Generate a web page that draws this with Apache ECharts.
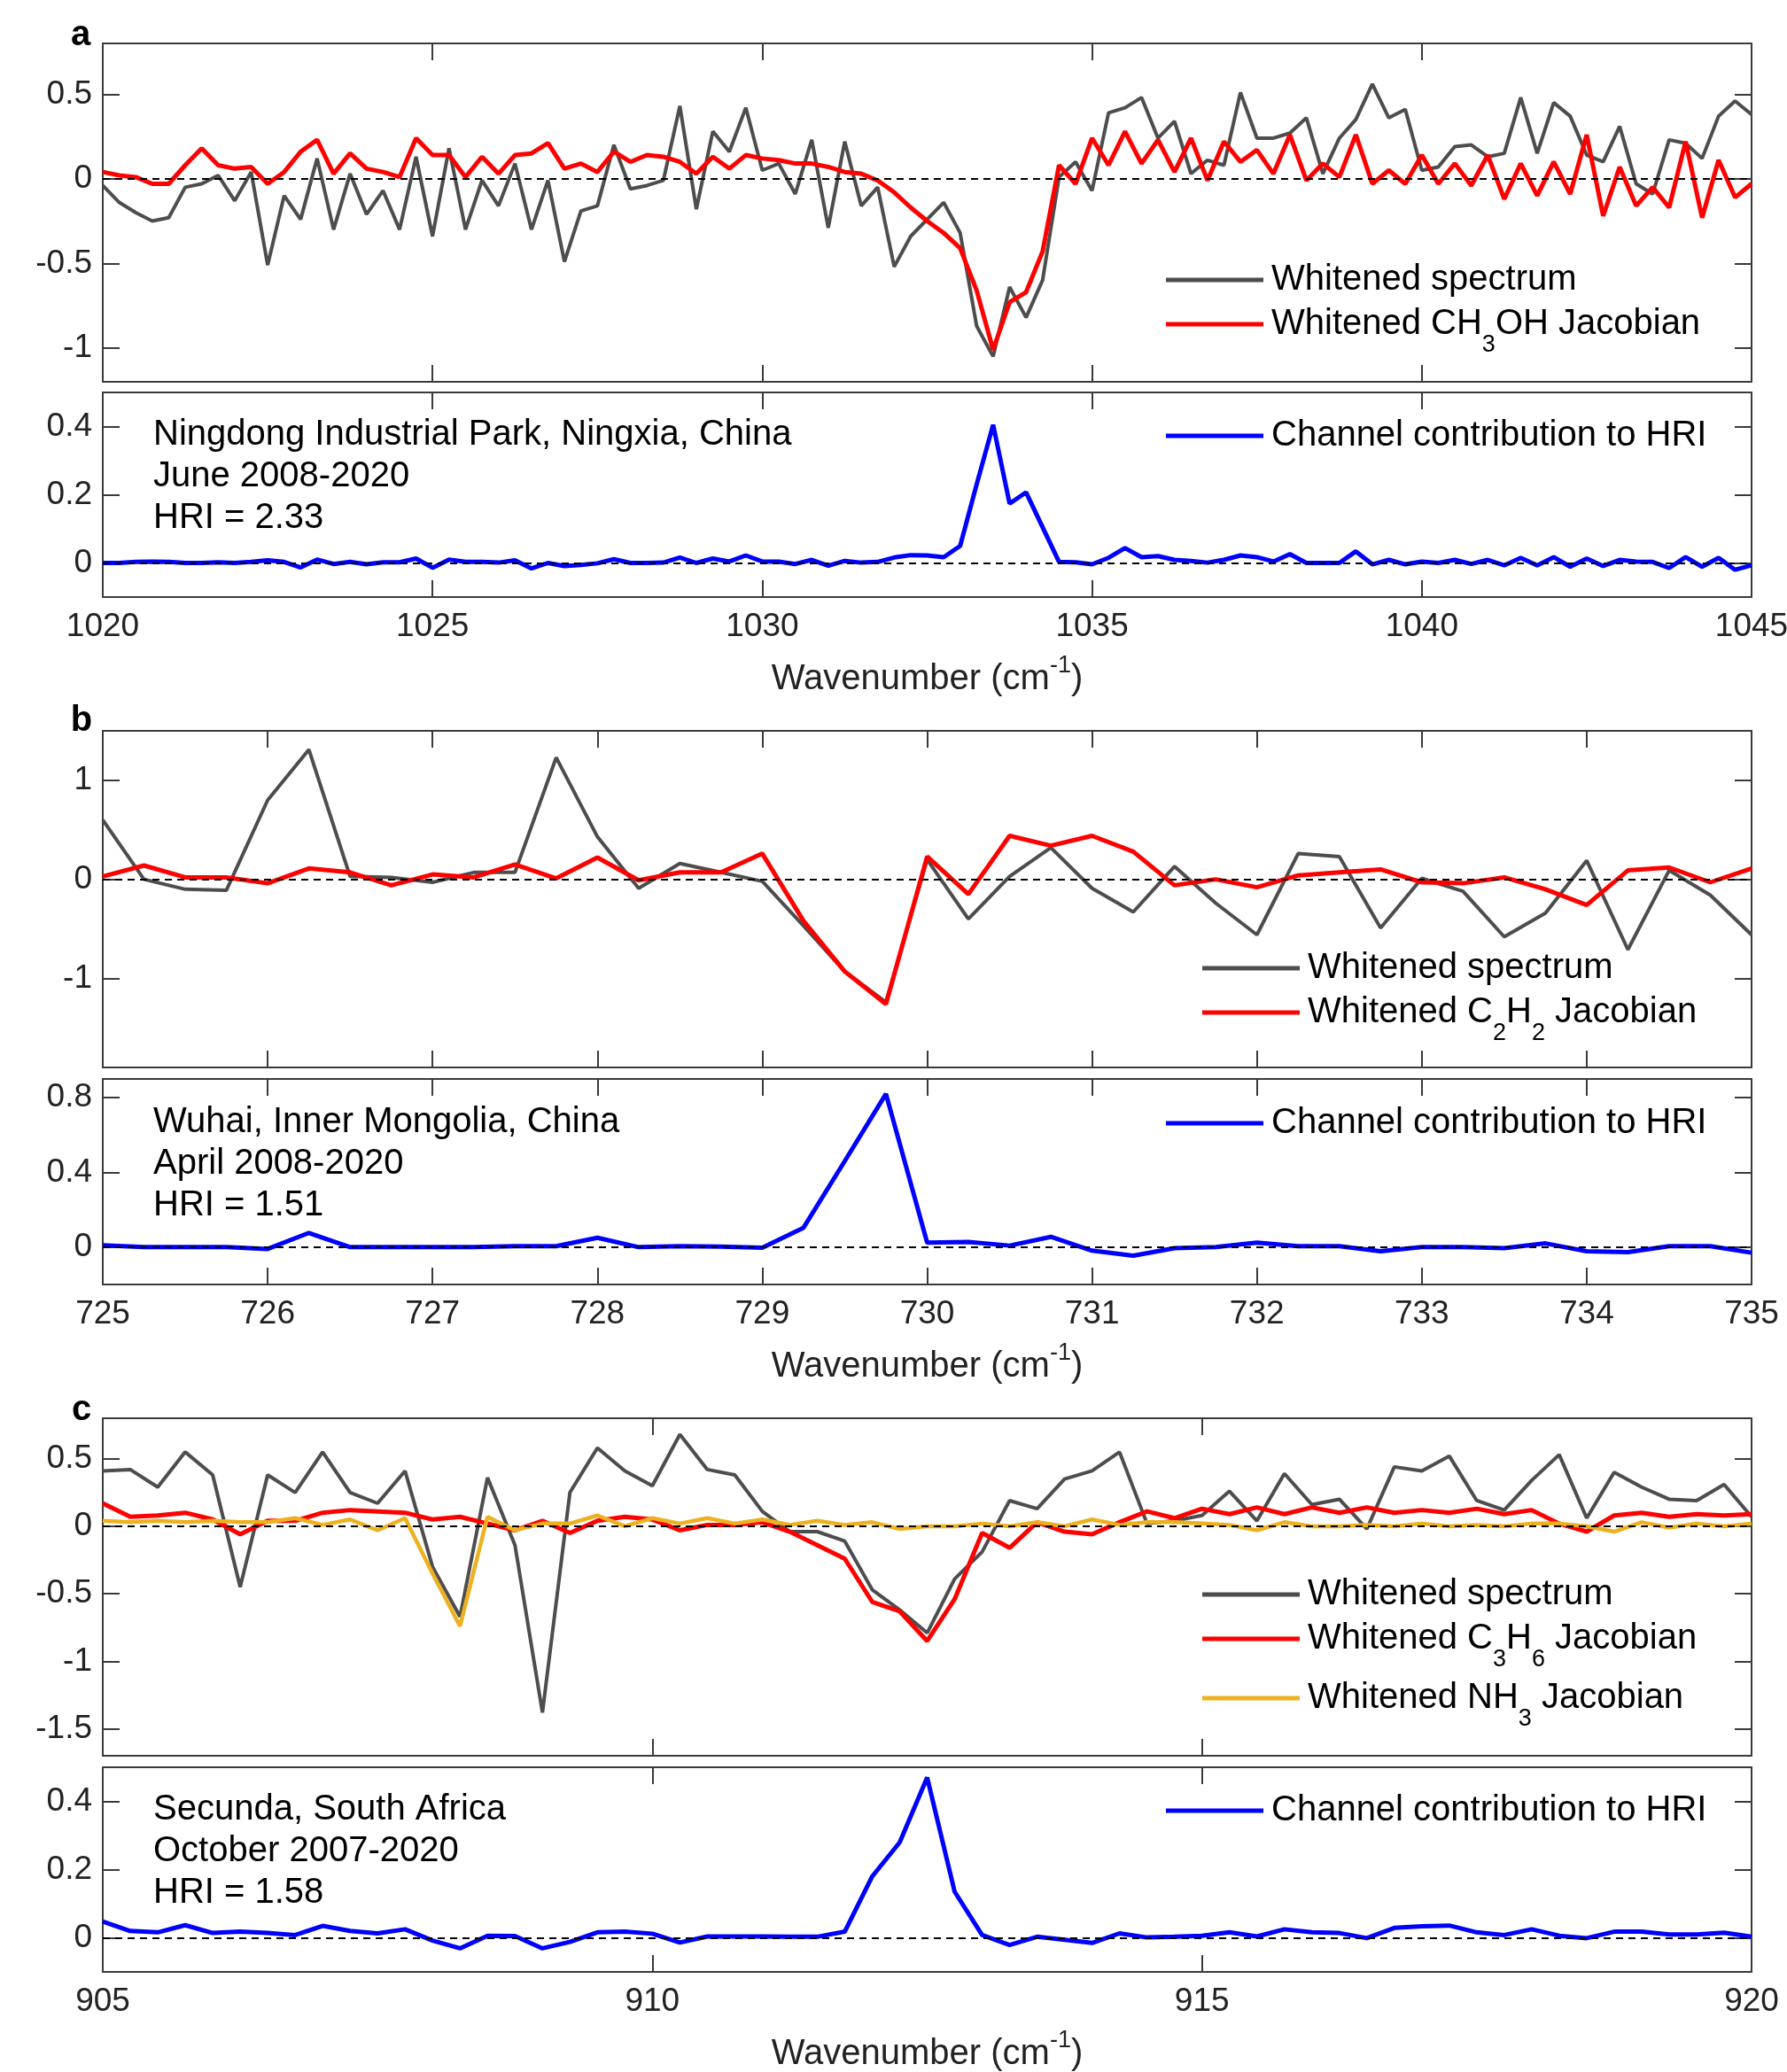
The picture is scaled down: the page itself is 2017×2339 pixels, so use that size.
<!DOCTYPE html>
<html>
<head>
<meta charset="utf-8">
<script src="https://cdn.jsdelivr.net/npm/echarts/dist/echarts.min.js"></script>
<style>
html, body { margin: 0; padding: 0; background: #fff; overflow: hidden; }
#chart { width: 2017px; height: 2339px; }
</style>
</head>
<body>
<div id="chart"></div>
<script>
// ---- panel a : CH3OH, Ningdong ----
var aStart = 1020, aStep = 0.25;
var aSpectrum = [-0.04, -0.14, -0.20, -0.25, -0.23, -0.05, -0.03, 0.02, -0.13, 0.04,
    -0.51, -0.10, -0.24, 0.12, -0.30, 0.03, -0.21, -0.07, -0.30, 0.13,
    -0.34, 0.18, -0.30, -0.01, -0.16, 0.09, -0.30, -0.01, -0.49, -0.19,
    -0.16, 0.20, -0.06, -0.04, -0.01, 0.43, -0.18, 0.28, 0.16, 0.42,
    0.05, 0.09, -0.09, 0.23, -0.29, 0.22, -0.16, -0.05, -0.52, -0.34,
    -0.24, -0.14, -0.32, -0.87, -1.05, -0.64, -0.82, -0.60, 0.01, 0.10,
    -0.07, 0.39, 0.42, 0.48, 0.24, 0.34, 0.03, 0.11, 0.08, 0.51,
    0.24, 0.24, 0.27, 0.36, 0.03, 0.24, 0.35, 0.56, 0.36, 0.41,
    0.05, 0.07, 0.19, 0.20, 0.13, 0.15, 0.48, 0.15, 0.45, 0.37,
    0.14, 0.10, 0.31, -0.03, -0.09, 0.23, 0.21, 0.12, 0.37, 0.46, 0.38];
var aJacobian = [0.04, 0.02, 0.01, -0.03, -0.03, 0.08, 0.18, 0.08, 0.06, 0.07,
    -0.03, 0.04, 0.16, 0.23, 0.03, 0.15, 0.06, 0.04, 0.01, 0.24,
    0.14, 0.14, 0.01, 0.13, 0.03, 0.14, 0.15, 0.21, 0.06, 0.09,
    0.04, 0.16, 0.10, 0.14, 0.13, 0.10, 0.03, 0.13, 0.06, 0.14,
    0.12, 0.11, 0.09, 0.09, 0.07, 0.04, 0.03, -0.01, -0.08, -0.17,
    -0.25, -0.32, -0.41, -0.66, -1.01, -0.73, -0.67, -0.43, 0.08, -0.03,
    0.24, 0.08, 0.28, 0.09, 0.23, 0.04, 0.24, -0.01, 0.22, 0.10,
    0.17, 0.03, 0.26, -0.01, 0.09, 0.01, 0.26, -0.03, 0.05, -0.03,
    0.14, -0.03, 0.09, -0.04, 0.14, -0.12, 0.09, -0.10, 0.10, -0.09,
    0.26, -0.22, 0.07, -0.16, -0.05, -0.17, 0.22, -0.23, 0.11, -0.11, -0.03];
var aContribution = [0, 0, 0.003, 0.004, 0.003, 0, 0, 0.002, 0, 0.003,
    0.008, 0.003, -0.013, 0.010, -0.003, 0.003, -0.004, 0.002, 0.002, 0.013,
    -0.014, 0.010, 0.003, 0.003, 0.001, 0.008, -0.016, 0, -0.009, -0.006,
    -0.001, 0.011, 0, 0, 0.001, 0.016, 0, 0.013, 0.004, 0.022,
    0.004, 0.004, -0.003, 0.009, -0.008, 0.006, 0.001, 0.003, 0.016, 0.023,
    0.022, 0.017, 0.05, 0.23, 0.405, 0.174, 0.207, 0.105, 0.003, 0.002,
    -0.004, 0.015, 0.044, 0.017, 0.020, 0.009, 0.006, 0.001, 0.009, 0.022,
    0.017, 0.004, 0.026, 0, 0, 0, 0.034, -0.004, 0.009, -0.004,
    0.004, 0, 0.009, -0.003, 0.009, -0.007, 0.015, -0.007, 0.017, -0.011,
    0.013, -0.009, 0.009, 0.004, 0.003, -0.015, 0.017, -0.011, 0.015, -0.020, -0.007];
var aTopTicks = [-1, -0.5, 0, 0.5];
var aBotTicks = [0, 0.2, 0.4];

// ---- panel b : C2H2, Wuhai ----
var bStart = 725, bStep = 0.25;
var bSpectrum = [0.60, 0.00, -0.10, -0.11, 0.80, 1.31, 0.03, 0.02, -0.03, 0.07,
    0.07, 1.23, 0.43, -0.09, 0.16, 0.07, -0.02, -0.47, -0.93, -1.24,
    0.20, -0.40, 0.03, 0.32, -0.09, -0.33, 0.13, -0.24, -0.56, 0.26,
    0.23, -0.49, 0.01, -0.12, -0.58, -0.34, 0.19, -0.71, 0.09, -0.16, -0.56];
var bJacobian = [0.03, 0.14, 0.02, 0.02, -0.04, 0.11, 0.07, -0.06, 0.05, 0.02,
    0.15, 0.01, 0.22, -0.01, 0.07, 0.07, 0.26, -0.42, -0.93, -1.26,
    0.23, -0.15, 0.44, 0.34, 0.44, 0.28, -0.06, 0.00, -0.08, 0.04,
    0.07, 0.10, -0.03, -0.04, 0.02, -0.10, -0.26, 0.09, 0.12, -0.03, 0.11];
var bContribution = [0.01, 0, 0, 0, -0.01, 0.076, 0, 0, 0, 0,
    0.005, 0.005, 0.05, 0, 0.005, 0.003, -0.003, 0.104, 0.46, 0.82,
    0.024, 0.028, 0.008, 0.055, -0.019, -0.046, -0.006, 0, 0.024, 0.005,
    0.005, -0.022, 0, 0, -0.006, 0.02, -0.022, -0.027, 0.005, 0.005, -0.03];
var bTopTicks = [-1, 0, 1];
var bBotTicks = [0, 0.4, 0.8];

// ---- panel c : C3H6 + NH3, Secunda ----
var cStart = 905, cStep = 0.25;
var cSpectrum = [0.41, 0.42, 0.29, 0.55, 0.38, -0.45, 0.38, 0.25, 0.55, 0.25,
    0.17, 0.41, -0.30, -0.67, 0.36, -0.14, -1.38, 0.25, 0.58, 0.41,
    0.30, 0.68, 0.42, 0.38, 0.11, -0.04, -0.04, -0.11, -0.47, -0.62,
    -0.79, -0.39, -0.19, 0.19, 0.13, 0.35, 0.41, 0.55, 0.02, 0.04,
    0.08, 0.26, 0.04, 0.39, 0.16, 0.20, -0.02, 0.44, 0.41, 0.52,
    0.19, 0.12, 0.34, 0.53, 0.06, 0.40, 0.29, 0.20, 0.19, 0.31, 0.07];
var cJacobianC3H6 = [0.17, 0.07, 0.08, 0.10, 0.05, -0.06, 0.04, 0.04, 0.10, 0.12,
    0.11, 0.10, 0.05, 0.07, 0.02, -0.03, 0.04, -0.05, 0.04, 0.07,
    0.05, -0.03, 0.01, 0.01, 0.03, -0.04, -0.14, -0.24, -0.56, -0.63,
    -0.85, -0.54, -0.05, -0.16, 0.03, -0.04, -0.06, 0.03, 0.11, 0.06,
    0.13, 0.09, 0.14, 0.09, 0.14, 0.10, 0.14, 0.10, 0.12, 0.10,
    0.13, 0.09, 0.12, 0.02, -0.04, 0.08, 0.10, 0.07, 0.09, 0.08, 0.09];
var cJacobianNH3 = [0.04, 0.03, 0.04, 0.03, 0.04, 0.03, 0.03, 0.06, 0.01, 0.05,
    -0.03, 0.06, -0.35, -0.74, 0.07, -0.03, 0.02, 0.02, 0.08, 0,
    0.06, 0.02, 0.06, 0.02, 0.05, 0.01, 0.04, 0.01, 0.03, -0.02,
    0, 0, 0.02, 0, 0.03, 0, 0.05, 0.01, 0.03, 0.03,
    0.02, 0.01, -0.03, 0.03, 0, 0, 0.01, 0, 0.02, 0,
    0.01, 0, 0.02, 0.02, 0, -0.04, 0.03, -0.01, 0.02, 0, 0.02];
var cContribution = [0.048, 0.02, 0.016, 0.037, 0.014, 0.018, 0.014, 0.008, 0.035, 0.02,
    0.013, 0.025, -0.008, -0.031, 0.006, 0.005, -0.031, -0.012, 0.016, 0.018,
    0.012, -0.014, 0.004, 0.004, 0.004, 0.003, 0.003, 0.018, 0.18, 0.28,
    0.47, 0.135, 0.008, -0.021, 0.003, -0.006, -0.015, 0.013, 0.001, 0.003,
    0.006, 0.016, 0.004, 0.025, 0.016, 0.014, -0.001, 0.029, 0.034, 0.036,
    0.016, 0.008, 0.025, 0.006, -0.001, 0.018, 0.018, 0.010, 0.010, 0.015, 0.003];
var cTopTicks = [-1.5, -1, -0.5, 0, 0.5];
var cBotTicks = [0, 0.2, 0.4];

var FONT = 'Liberation Sans';
var axisColor = '#3a3a3a';
var grey = '#4d4d4d', red = '#ff0000', blue = '#0000ff', yellow = '#edb120';

var myChart = echarts.init(document.getElementById('chart'));

function pairs(start, step, vals) {
    var out = [];
    for (var i = 0; i < vals.length; i++) {
        out.push([start + i * step, vals[i]]);
    }
    return out;
}

// plain numbers, no thousands separator
function plain(v) {
    return String(v);
}

var grids = [], xAxes = [], yAxes = [], series = [];

function addPanel(top, height, xMin, xMax, xStep, yMin, yMax, yTicks, withLabels) {
    var g = grids.length;
    grids.push({left: 116, right: 40, top: top, height: height, outerBoundsMode: 'none', containLabel: false});
    var line = {show: true, onZero: false, lineStyle: {color: axisColor, width: 2}};
    var tick = {show: true, inside: true, length: 19, lineStyle: {color: axisColor, width: 2}};
    var bottom = {
        type: 'value', gridIndex: g, position: 'bottom', min: xMin, max: xMax, interval: xStep,
        axisLine: line, axisTick: tick, splitLine: {show: false},
        axisLabel: {show: withLabels, margin: 15, color: '#222', fontSize: 37, fontFamily: FONT, formatter: plain}
    };
    if (withLabels) {
        bottom.name = 'Wavenumber (cm{sup|-1})';
        bottom.nameLocation = 'middle';
        bottom.nameGap = 64;
        bottom.nameTextStyle = {
            color: '#222', fontSize: 40, fontFamily: FONT, lineHeight: 58,
            rich: {sup: {fontSize: 27, lineHeight: 27, verticalAlign: 'top', fontFamily: FONT, color: '#222'}}
        };
    }
    xAxes.push(bottom);
    xAxes.push({
        type: 'value', gridIndex: g, position: 'top', min: xMin, max: xMax, interval: xStep,
        axisLine: line, axisTick: tick, splitLine: {show: false}, axisLabel: {show: false}
    });
    yAxes.push({
        type: 'value', gridIndex: g, position: 'left', min: yMin, max: yMax,
        axisLine: line, splitLine: {show: false},
        axisTick: {show: true, inside: true, length: 19, lineStyle: {color: axisColor, width: 2}, customValues: yTicks},
        axisLabel: {margin: 12, color: '#222', fontSize: 37, fontFamily: FONT, customValues: yTicks, formatter: plain}
    });
    yAxes.push({
        type: 'value', gridIndex: g, position: 'right', min: yMin, max: yMax,
        axisLine: line, splitLine: {show: false},
        axisTick: {show: true, inside: true, length: 19, lineStyle: {color: axisColor, width: 2}, customValues: yTicks},
        axisLabel: {show: false}
    });
    return g;
}

function addLine(g, name, color, width, start, step, vals, zeroLine) {
    var s = {
        name: name, type: 'line', xAxisIndex: 2 * g, yAxisIndex: 2 * g,
        data: pairs(start, step, vals),
        symbol: 'none', showSymbol: false,
        lineStyle: {color: color, width: width},
        itemStyle: {color: color},
        animation: false
    };
    if (zeroLine) {
        s.markLine = {
            silent: true, symbol: 'none', label: {show: false}, animation: false,
            lineStyle: {color: '#000', width: 2, type: [8, 6]},
            data: [{yAxis: 0}]
        };
    }
    series.push(s);
}

var SPEC = 'Whitened spectrum';
var HRI = 'Channel contribution to HRI';

var g0 = addPanel(49, 382, 1020, 1045, 5, -1.2, 0.8, aTopTicks, false);
addLine(g0, SPEC, grey, 4, aStart, aStep, aSpectrum, true);
addLine(g0, 'Whitened CH3OH Jacobian', red, 5, aStart, aStep, aJacobian, false);
var g1 = addPanel(443, 231, 1020, 1045, 5, -0.1, 0.5, aBotTicks, true);
addLine(g1, HRI, blue, 5, aStart, aStep, aContribution, true);

var g2 = addPanel(825, 380, 725, 735, 1, -1.9, 1.5, bTopTicks, false);
addLine(g2, SPEC, grey, 4, bStart, bStep, bSpectrum, true);
addLine(g2, 'Whitened C2H2 Jacobian', red, 5, bStart, bStep, bJacobian, false);
var g3 = addPanel(1218, 232, 725, 735, 1, -0.2, 0.9, bBotTicks, true);
addLine(g3, HRI, blue, 5, bStart, bStep, bContribution, true);

var g4 = addPanel(1601, 381, 905, 920, 5, -1.7, 0.8, cTopTicks, false);
addLine(g4, SPEC, grey, 4, cStart, cStep, cSpectrum, true);
addLine(g4, 'Whitened C3H6 Jacobian', red, 5, cStart, cStep, cJacobianC3H6, false);
addLine(g4, 'Whitened NH3 Jacobian', yellow, 4.5, cStart, cStep, cJacobianNH3, false);
var g5 = addPanel(1995, 231, 905, 920, 5, -0.1, 0.5, cBotTicks, true);
addLine(g5, HRI, blue, 5, cStart, cStep, cContribution, true);

var subNames = {
    'Whitened CH3OH Jacobian': '{m|Whitened CH}{s|3}{m|OH Jacobian}',
    'Whitened C2H2 Jacobian': '{m|Whitened C}{s|2}{m|H}{s|2}{m| Jacobian}',
    'Whitened C3H6 Jacobian': '{m|Whitened C}{s|3}{m|H}{s|6}{m| Jacobian}',
    'Whitened NH3 Jacobian': '{m|Whitened NH}{s|3}{m| Jacobian}'
};

function legendAt(names, left, top) {
    return {
        data: names, left: left, top: top, orient: 'vertical', padding: 0,
        itemGap: -7, icon: 'rect', itemWidth: 110, itemHeight: 5, selectedMode: false,
        formatter: function (name) { return subNames[name] || name; },
        textStyle: {
            color: '#000', fontSize: 40, fontFamily: FONT, lineHeight: 38, padding: [0, 0, 0, 4],
            rich: {
                m: {fontSize: 40, lineHeight: 74, fontFamily: FONT, color: '#000'},
                s: {fontSize: 27, lineHeight: 27, verticalAlign: 'bottom', fontFamily: FONT, color: '#000'}
            }
        }
    };
}

function note(x, y, txt) {
    return {
        type: 'text', x: x, y: y, silent: true,
        style: {text: txt, fontSize: 40, fontFamily: FONT, lineHeight: 47, fill: '#000', align: 'left', verticalAlign: 'top'}
    };
}

function letter(x, y, txt) {
    return {
        type: 'text', x: x, y: y, silent: true,
        style: {text: txt, fontSize: 40, fontWeight: 'bold', fontFamily: FONT, fill: '#000', align: 'center', verticalAlign: 'middle'}
    };
}

var option = {
    backgroundColor: '#fff',
    animation: false,
    grid: grids,
    xAxis: xAxes,
    yAxis: yAxes,
    legend: [
        legendAt([SPEC, 'Whitened CH3OH Jacobian'], 1316, 296),
        legendAt([HRI], 1316, 472),
        legendAt([SPEC, 'Whitened C2H2 Jacobian'], 1357, 1073),
        legendAt([HRI], 1316, 1248),
        legendAt([SPEC, 'Whitened C3H6 Jacobian', 'Whitened NH3 Jacobian'], 1357, 1780),
        legendAt([HRI], 1316, 2024)
    ],
    graphic: [
        letter(91, 40, 'a'),
        letter(92, 814, 'b'),
        letter(92, 1592, 'c'),
        note(173, 467, 'Ningdong Industrial Park, Ningxia, China\nJune 2008-2020\nHRI = 2.33'),
        note(173, 1243, 'Wuhai, Inner Mongolia, China\nApril 2008-2020\nHRI = 1.51'),
        note(173, 2019, 'Secunda, South Africa\nOctober 2007-2020\nHRI = 1.58')
    ],
    series: series
};

myChart.setOption(option);
</script>
</body>
</html>
